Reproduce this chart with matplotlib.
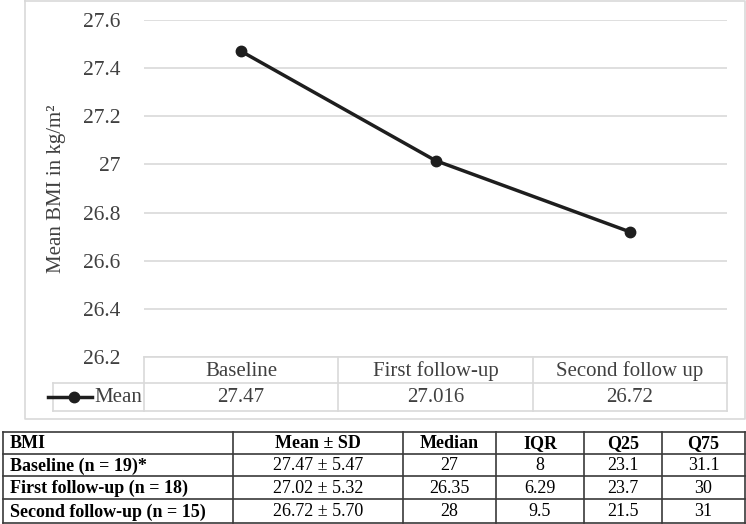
import numpy as np
import matplotlib
matplotlib.use("Agg")
import matplotlib.pyplot as plt

plt.rcParams['font.family'] = ['Liberation Serif', 'DejaVu Serif']

# dados do grafico
categorias = ["Baseline", "First follow-up", "Second follow up"]
media = [27.47, 27.016, 26.72]
rotulos_media = ["27.47", "27.016", "26.72"]
yticks = [26.2, 26.4, 26.6, 26.8, 27.0, 27.2, 27.4, 27.6]
ytick_labels = ["26.2", "26.4", "26.6", "26.8", "27", "27.2", "27.4", "27.6"]

# tabela de baixo
cab = ["BMI", "Mean \u00b1 SD", "Median", "IQR", "Q25", "Q75"]
grupos = ["Baseline (n = 19)*", "First follow-up (n = 18)", "Second follow-up (n = 15)"]
media_sd = ["27.47 \u00b1 5.47", "27.02 \u00b1 5.32", "26.72 \u00b1 5.70"]
mediana = ["27", "26.35", "28"]
iqr = ["8", "6.29", "9.5"]
q25 = ["23.1", "23.7", "21.5"]
q75 = ["31.1", "30", "31"]

W, H = 746, 524
fig = plt.figure(figsize=(W / 100, H / 100), dpi=100)

# eixo auxiliar em pixels para desenhar as tabelas
tab = fig.add_axes([0, 0, 1, 1])
tab.set_xlim(0, W)
tab.set_ylim(H, 0)
tab.axis("off")

cinza = "#d9d9d9"
texto = "#404040"
fs = 15

# moldura do grafico
tab.plot([25, 745, 745, 25, 25], [1, 1, 419, 419, 1], color=cinza, lw=1.2)

# area do grafico
x0, x1, ytop, ybot = 144, 727, 20, 357
ax = fig.add_axes([x0 / W, (H - ybot) / H, (x1 - x0) / W, (ybot - ytop) / H])
ax.set_xlim(-0.5, 2.5)
ax.set_ylim(26.2, 27.6)
ax.set_yticks(yticks)
ax.set_yticklabels(ytick_labels)
ax.set_xticks([])
for s in ax.spines.values():
    s.set_visible(False)
ax.tick_params(axis="y", length=0, pad=17, labelsize=15.5, labelcolor=texto)
ax.grid(axis="y", color=cinza, lw=1.2)
ax.set_axisbelow(True)
ax.patch.set_alpha(0)
ax.plot(range(len(media)), media, color="#1e1e1e", lw=2.5, marker="o",
        markersize=7.5, clip_on=False, zorder=3)
ax.set_ylabel("Mean BMI in kg/m\u00b2", fontsize=fs, color=texto, labelpad=12)

# tabela de dados do grafico
xs = np.linspace(x0, x1, len(categorias) + 1)
r0, r1, r2 = 357, 383, 411
tab.plot([x0, x1], [r0, r0], color=cinza, lw=1.2)
tab.plot([53, x1], [r1, r1], color=cinza, lw=1.2)
tab.plot([53, x1], [r2, r2], color=cinza, lw=1.2)
tab.plot([53, 53], [r1, r2], color=cinza, lw=1.2)
for xv in xs:
    tab.plot([xv, xv], [r0, r2], color=cinza, lw=1.2)
for i, c in enumerate(categorias):
    xc = (xs[i] + xs[i + 1]) / 2
    tab.text(xc, (r0 + r1) / 2 + 1, c, ha="center", va="center", fontsize=fs, color=texto)
    tab.text(xc, (r1 + r2) / 2 + 1, rotulos_media[i], ha="center", va="center",
             fontsize=fs, color=texto)
tab.plot([48, 92], [(r1 + r2) / 2] * 2, color="#1e1e1e", lw=2.5)
tab.plot([74], [(r1 + r2) / 2], "o", color="#1e1e1e", markersize=7.5)
tab.text(94, (r1 + r2) / 2 + 1, "Mean", ha="left", va="center", fontsize=fs, color=texto)

# tabela de estatisticas
cols = [3, 233, 403, 496, 584, 662, 745]
rows = [432, 454, 476, 499, 523]
for yv in rows:
    tab.plot([cols[0], cols[-1]], [yv, yv], color="#3a3a3a", lw=1.2)
for xv in cols:
    tab.plot([xv, xv], [rows[0], rows[-1]], color="#3a3a3a", lw=1.2)

linhas = [cab] + [[grupos[i], media_sd[i], mediana[i], iqr[i], q25[i], q75[i]]
                  for i in range(len(grupos))]
for r, linha in enumerate(linhas):
    yc = (rows[r] + rows[r + 1]) / 2 + 1
    for c, val in enumerate(linha):
        if c == 0:
            tab.text(cols[0] + 7, yc, val, ha="left", va="center", fontsize=13,
                     fontweight="bold", color="black")
        else:
            tab.text((cols[c] + cols[c + 1]) / 2, yc, val, ha="center", va="center",
                     fontsize=13, fontweight="bold" if r == 0 else "normal",
                     color="black")

fig.savefig("out.png", dpi=100)
